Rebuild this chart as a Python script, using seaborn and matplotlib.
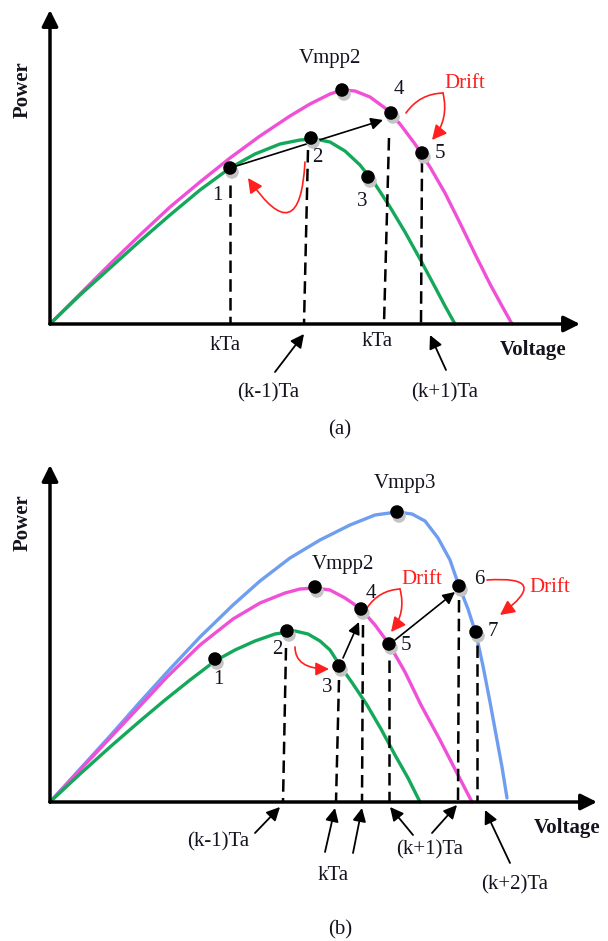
import matplotlib
matplotlib.use("Agg")
import matplotlib.pyplot as plt
from matplotlib.patches import FancyArrowPatch
import pandas as pd
import seaborn as sns

# ---- panel (a): P-V curves, units measured from the origin of the sketch ----
a_green_v = [0, 30, 60, 90, 120, 150, 180, 205, 230, 250, 265, 280, 295, 310, 325, 340, 355, 370, 385, 395, 405]
a_green_p = [0, 29, 56, 83, 109, 134, 156, 170, 180, 184, 185, 182, 173, 159, 140, 117, 92, 65, 37, 18, 0]
a_mag_v = [0, 30, 60, 90, 120, 150, 180, 210, 240, 260, 280, 292, 305, 320, 335, 350, 365, 380, 395, 410, 425, 440, 452, 462]
a_mag_p = [0, 30, 60, 89, 117, 142, 166, 188, 208, 220, 230, 234, 233, 227, 216, 200, 180, 157, 131, 101, 70, 40, 18, 0]

a_pt_v = [180, 261, 292, 318, 341, 372]
a_pt_p = [156, 186, 234, 147, 211, 171]
a_lab = ["1", "2", "Vmpp2", "3", "4", "5"]
a_lab_v = [167, 267, 280, 312, 349, 390]
a_lab_p = [129, 166, 266, 122, 234, 170]

a_dash = [(180, 139, 180), (258, 174, 254), (339, 186, 334), (372, 164, 371)]
a_ticks = ["kTa", "kTa", "(k-1)Ta", "(k+1)Ta"]
a_tick_v = [175, 327, 218, 395]
a_tick_p = [-21, -18, -69, -69]

# ---- panel (b) ----
b_blue_v = [0, 30, 60, 90, 120, 150, 183, 210, 240, 270, 300, 325, 347, 362, 375, 388, 400, 409, 418, 426, 433, 440, 447, 452, 457]
b_blue_p = [0, 33, 66, 100, 133, 165, 197, 221, 244, 262, 277, 287, 290, 288, 281, 264, 242, 216, 193, 168, 136, 100, 62, 35, 4]
b_mag_v = [0, 30, 60, 90, 117, 150, 183, 210, 235, 250, 265, 280, 295, 311, 325, 339, 355, 371, 390, 408, 422]
b_mag_p = [0, 32, 64, 96, 125, 157, 183, 199, 209, 213, 214, 212, 204, 193, 177, 158, 130, 97, 62, 27, 0]
b_green_v = [0, 30, 60, 90, 115, 140, 165, 185, 205, 225, 245, 258, 270, 280, 289, 303, 317, 331, 345, 358, 370]
b_green_p = [0, 28, 55, 81, 102, 122, 141, 152, 161, 168, 171, 168, 161, 152, 138, 118, 97, 73, 47, 24, 0]

b_pt_v = [165, 237, 289, 311, 339, 409, 426, 265, 347]
b_pt_p = [143, 171, 136, 193, 158, 216, 170, 215, 290]
b_lab = ["1", "2", "3", "4", "5", "6", "7", "Vmpp2", "Vmpp3"]
b_lab_v = [168, 227, 277, 321, 356, 429, 443, 293, 355]
b_lab_p = [122, 152, 114, 209, 157, 222, 170, 237, 319]

b_dash = [(236, 154, 233), (289, 122, 286), (313, 177, 312), (339, 142, 339), (409, 202, 408), (427, 157, 427)]
b_ticks = ["(k-1)Ta", "kTa", "(k+1)Ta", "(k+2)Ta"]
b_tick_v = [168, 283, 380, 465]
b_tick_p = [-40, -73, -48, -83]

GREEN, MAG, BLUE, RED = "#14a85a", "#f050d8", "#6f9ef0", "#ff1f1f"
TXT = "#141420"
FS = 15

sns.set_theme(style="white")
plt.rcParams["font.family"] = ["Liberation Serif", "DejaVu Serif"]

fig = plt.figure(figsize=(6.08, 9.41), dpi=100)
ax_a = fig.add_axes([0, 501 / 941, 1, 440 / 941])
ax_b = fig.add_axes([0, 0, 1, 501 / 941])
ax_a.set_xlim(-50, 558)
ax_a.set_ylim(-116, 324)
ax_b.set_xlim(-50, 558)
ax_b.set_ylim(-139, 362)


def arrow(ax, start, end, color="black", lw=1.1, scale=16, style="-|>", rad=0.0, cs=None, z=5):
    p = FancyArrowPatch(start, end, arrowstyle=style, mutation_scale=scale, color=color, lw=lw,
                        connectionstyle=cs or f"arc3,rad={rad}", shrinkA=0, shrinkB=0, zorder=z)
    ax.add_patch(p)


def frame(ax, xtip, ytip, lab_y, volt):
    ax.set_axis_off()
    arrow(ax, (0, 0), (xtip, 0), lw=2.5, scale=24, z=3)
    arrow(ax, (0, 0), (0, ytip), lw=2.5, scale=24, z=3)
    ax.text(-27, lab_y, "Power", rotation=90, ha="center", va="center", fontsize=FS,
            fontweight="bold", color=TXT)
    ax.text(volt[0], volt[1], "Voltage", ha="center", va="center", fontsize=FS,
            fontweight="bold", color=TXT)


def curve(ax, v, p, color):
    df = pd.DataFrame({"V": v, "P": p})
    sns.lineplot(data=df, x="V", y="P", sort=False, color=color, lw=2.4, ax=ax, zorder=2,
                 solid_joinstyle="round", solid_capstyle="round")


def dots(ax, v, p):
    sh = pd.DataFrame({"V": [x + 2 for x in v], "P": [y - 4 for y in p]})
    sns.scatterplot(data=sh, x="V", y="P", s=95, color="#c4c4c4", edgecolor="none", ax=ax, zorder=6)
    sns.scatterplot(data=pd.DataFrame({"V": v, "P": p}), x="V", y="P", s=95, color="black",
                    edgecolor="none", ax=ax, zorder=7)


def dashes(ax, segs):
    for v0, p0, v1 in segs:
        ax.plot([v0, v1], [p0, 0], color="black", lw=1.8, ls=(0, (5, 2.5)), zorder=4)


def labels(ax, names, v, p, color=TXT):
    for n, x, y in zip(names, v, p):
        ax.text(x, y, n, ha="center", va="center", fontsize=FS, color=color, zorder=8)


# ---------------- panel (a) ----------------
frame(ax_a, 530, 314, 234, (483, -26))
curve(ax_a, a_mag_v, a_mag_p, MAG)
curve(ax_a, a_green_v, a_green_p, GREEN)
dashes(ax_a, a_dash)
dots(ax_a, a_pt_v, a_pt_p)
labels(ax_a, a_lab, a_lab_v, a_lab_p)
labels(ax_a, a_ticks, a_tick_v, a_tick_p)
arrow(ax_a, (180, 156), (333, 204), lw=1.2, scale=18)
arrow(ax_a, (255, 162), (198, 146), color=RED, lw=1.2, scale=22, rad=-1.47)
arrow(ax_a, (393, 231), (356, 211), color=RED, lw=1.2, style="-", rad=0.25)
arrow(ax_a, (393, 231), (382, 184), color=RED, lw=1.2, scale=22, rad=-0.25)
ax_a.text(415, 241, "Drift", ha="center", va="center", fontsize=FS, color=RED)
arrow(ax_a, (225, -48), (254, -10), lw=1.3, scale=20)
arrow(ax_a, (396, -46), (380, -11), lw=1.3, scale=20)
ax_a.text(290, -106, "(a)", ha="center", va="center", fontsize=FS, color=TXT)

# ---------------- panel (b) ----------------
frame(ax_b, 547, 337, 279, (517, -26))
curve(ax_b, b_blue_v, b_blue_p, BLUE)
curve(ax_b, b_mag_v, b_mag_p, MAG)
curve(ax_b, b_green_v, b_green_p, GREEN)
dashes(ax_b, b_dash)
dots(ax_b, b_pt_v, b_pt_p)
labels(ax_b, b_lab, b_lab_v, b_lab_p)
labels(ax_b, b_ticks, b_tick_v, b_tick_p)
arrow(ax_b, (293, 144), (309, 180), lw=1.2, scale=18)
arrow(ax_b, (345, 162), (405, 210), lw=1.2, scale=18)
arrow(ax_b, (245, 155), (279, 133), color=RED, lw=1.2, scale=20, cs="angle3,angleA=-90,angleB=0")
arrow(ax_b, (350, 213), (317, 194), color=RED, lw=1.2, style="-", rad=0.25)
arrow(ax_b, (350, 213), (341, 170), color=RED, lw=1.2, scale=22, rad=-0.25)
arrow(ax_b, (437, 222), (450, 187), color=RED, lw=1.2, scale=22, rad=-1.7)
ax_b.text(372, 222, "Drift", ha="center", va="center", fontsize=FS, color=RED)
ax_b.text(500, 215, "Drift", ha="center", va="center", fontsize=FS, color=RED)
for s, e in [((205, -31), (230, -5)), ((275, -50), (285, -6)), ((303, -51), (312, -6)),
             ((363, -33), (340, -5)), ((382, -31), (407, -3)), ((460, -61), (435, -8))]:
    arrow(ax_b, s, e, lw=1.3, scale=20)
ax_b.text(290, -128, "(b)", ha="center", va="center", fontsize=FS, color=TXT)

fig.savefig("out.png", dpi=100, facecolor="white")
